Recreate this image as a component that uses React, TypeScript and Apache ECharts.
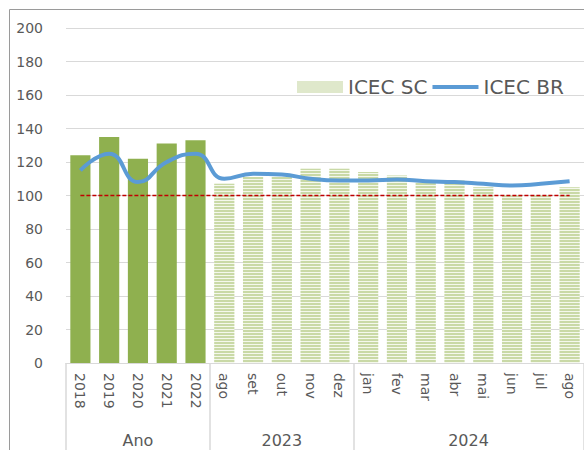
import React, { useEffect, useRef } from "react";
import * as echarts from "echarts";

// Eixo de categorias: anos (média anual) seguidos dos meses de 2023 e 2024
const categories = ["2018", "2019", "2020", "2021", "2022", "ago", "set", "out", "nov", "dez", "jan", "fev", "mar", "abr", "mai", "jun", "jul", "ago"];
// Rótulos do segundo nível do eixo e o índice da categoria onde cada um fica
const groupLabels = ["Ano", "2023", "2024"];
const groupLabelIndex = [2, 7, 13];
// Início de cada grupo (separadores verticais)
const groupStarts = [0, 5, 10];
// Quantidade de anos completos no início da série
const yearCount = 5;

const icecSC = [124, 135, 122, 131, 133, 107, 111, 111, 116, 116, 114, 112, 109, 109, 105, 100, 100, 105];
const icecBR = [115, 125, 108, 120, 125, 110, 113, 112.5, 110, 109, 109, 109.5, 108.5, 108, 107, 106, 107, 108.5];
const referenceLevel = 100;

const yTicks = { min: 0, max: 200, interval: 20 };

const FONT = "DejaVu Sans";
const TEXT = "#595959";
const GRID = "#d9d9d9";
const GREEN = "#8fb04f";
const PALE = "#f4f8ec";
const STRIPE = "#c9d9a6";
const BLUE = "#5b9bd5";

export default function App() {
  const ref = useRef<HTMLDivElement>(null);

  useEffect(() => {
    if (!ref.current) return;
    const chart = echarts.init(ref.current, null, { renderer: "svg" });

    const scData = icecSC.map((v, i) =>
      i < yearCount ? { value: v, itemStyle: { color: GREEN, decal: "none" } } : v
    );

    chart.setOption({
      animation: false,
      backgroundColor: "#ffffff",
      grid: { left: 66, right: 0, top: 28, bottom: 87 },
      legend: {
        left: 292,
        top: 72,
        itemWidth: 46,
        itemHeight: 12,
        itemGap: 5,
        textStyle: { fontFamily: FONT, fontSize: 20, color: TEXT },
        data: [
          { name: "ICEC SC", icon: "rect", itemStyle: { color: "#dfe8cb", decal: "none" } },
          {
            name: "ICEC BR",
            icon: "path://M0,0L46,0L46,4L0,4Z",
            itemStyle: { color: BLUE, borderWidth: 0 },
          },
        ],
      },
      xAxis: [
        {
          type: "category",
          data: categories,
          position: "bottom",
          axisLine: { show: true, lineStyle: { color: GRID, width: 1 } },
          axisTick: { show: false },
          axisLabel: {
            rotate: -90,
            margin: 10,
            interval: 0,
            color: TEXT,
            fontFamily: FONT,
            fontSize: 14,
          },
        },
        {
          type: "category",
          data: categories,
          position: "bottom",
          gridIndex: 0,
          axisLine: { show: false },
          axisTick: {
            show: true,
            length: 90,
            interval: (index: number) => groupStarts.includes(index),
            lineStyle: { color: GRID, width: 1.5 },
          },
          axisLabel: {
            margin: 69,
            interval: (index: number) => groupLabelIndex.includes(index),
            formatter: (_v: string, index: number) => {
              const g = groupLabelIndex.indexOf(index);
              if (g < 0) return "";
              return g === 2 ? "{shift|" + groupLabels[g] + "}" : groupLabels[g];
            },
            rich: {
              shift: { padding: [0, 0, 0, 28], color: TEXT, fontFamily: FONT, fontSize: 16 },
            },
            color: TEXT,
            fontFamily: FONT,
            fontSize: 16,
          },
        },
      ],
      yAxis: {
        type: "value",
        min: yTicks.min,
        max: yTicks.max,
        interval: yTicks.interval,
        axisLine: { show: false },
        axisTick: { show: false },
        splitLine: { lineStyle: { color: GRID, width: 1 } },
        axisLabel: { color: TEXT, fontFamily: FONT, fontSize: 14, margin: 23 },
      },
      series: [
        {
          name: "ICEC SC",
          type: "bar",
          data: scData,
          barCategoryGap: "30%",
          itemStyle: {
            color: PALE,
            decal: {
              symbol: "rect",
              symbolSize: 1,
              color: STRIPE,
              dashArrayX: [20, 0],
              dashArrayY: [2, 1],
              rotation: 0,
            },
          },
          markLine: {
            silent: true,
            symbol: "none",
            label: { show: false },
            lineStyle: { color: "#c00000", width: 1.3, type: [4, 2] },
            data: [
              [
                { coord: [0, referenceLevel] },
                { coord: [categories.length - 1, referenceLevel] },
              ],
            ],
          },
          z: 2,
        },
        {
          name: "ICEC BR",
          type: "line",
          data: icecBR,
          smooth: 0.5,
          symbol: "none",
          lineStyle: { color: BLUE, width: 4 },
          itemStyle: { color: BLUE },
          z: 4,
        },
      ],
      graphic: [
        {
          type: "rect",
          silent: true,
          shape: { x: 9.5, y: 9.5, width: 700, height: 600 },
          style: { fill: "none", stroke: "#9a9a9a", lineWidth: 1 },
          z: 100,
        },
      ],
    });

    return () => chart.dispose();
  }, []);

  return (
    <div
      ref={ref}
      style={{ position: "fixed", left: 0, top: 0, width: 584, height: 450 }}
    />
  );
}
